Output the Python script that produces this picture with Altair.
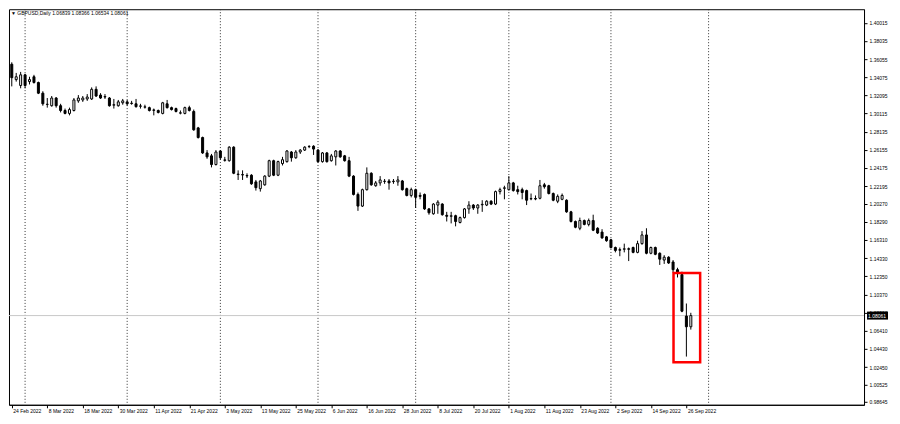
import json
import altair as alt
import pandas as pd

symbol = "GBPUSD"
timeframe = "Daily"
first_bar = "2022-02-24"
last_bar = "2022-09-27"

opens = [
    1.3549, 1.3381, 1.3317, 1.3433, 1.3359, 1.3412, 1.3349, 1.3233, 1.3110, 1.3096,
    1.3180, 1.3096, 1.3044, 1.3012, 1.3044, 1.3149, 1.3159, 1.3170, 1.3170, 1.3275,
    1.3212, 1.3191, 1.3180, 1.3102, 1.3096, 1.3128, 1.3138, 1.3120, 1.3117, 1.3090,
    1.3080, 1.3075, 1.3050, 1.3044, 1.3012, 1.3117, 1.3075, 1.3065, 1.3015, 1.3012,
    1.3075, 1.3033, 1.2854, 1.2749, 1.2581, 1.2549, 1.2454, 1.2602, 1.2500, 1.2496,
    1.2644, 1.2345, 1.2340, 1.2335, 1.2338, 1.2265, 1.2191, 1.2233, 1.2328, 1.2496,
    1.2338, 1.2465, 1.2486, 1.2591, 1.2528, 1.2591, 1.2612, 1.2650, 1.2654, 1.2612,
    1.2486, 1.2581, 1.2496, 1.2538, 1.2602, 1.2549, 1.2496, 1.2328, 1.2128, 1.2001,
    1.2180, 1.2359, 1.2223, 1.2254, 1.2270, 1.2275, 1.2268, 1.2265, 1.2275, 1.2191,
    1.2117, 1.2180, 1.2117, 1.2128, 1.1970, 1.1917, 1.2012, 1.2023, 1.1900, 1.1890,
    1.1896, 1.1822, 1.1875, 1.1970, 1.2012, 1.1980, 1.2015, 1.2012, 1.2054, 1.2023,
    1.2159, 1.2195, 1.2180, 1.2254, 1.2180, 1.2180, 1.2170, 1.2080, 1.2083, 1.2086,
    1.2233, 1.2223, 1.2138, 1.2054, 1.2075, 1.2065, 1.1938, 1.1833, 1.1759, 1.1843,
    1.1801, 1.1843, 1.1759, 1.1717, 1.1665, 1.1633, 1.1549, 1.1525, 1.1530, 1.1535,
    1.1549, 1.1496, 1.1591, 1.1686, 1.1486, 1.1549, 1.1486, 1.1412, 1.1443, 1.1391,
    1.1307, 1.1254, 1.0801, 1.06839,
]
highs = [
    1.3570, 1.3454, 1.3465, 1.3444, 1.3412, 1.3433, 1.3359, 1.3254, 1.3180, 1.3202,
    1.3191, 1.3117, 1.3065, 1.3075, 1.3180, 1.3212, 1.3202, 1.3223, 1.3296, 1.3307,
    1.3233, 1.3223, 1.3191, 1.3170, 1.3159, 1.3170, 1.3159, 1.3149, 1.3170, 1.3117,
    1.3107, 1.3086, 1.3065, 1.3054, 1.3138, 1.3159, 1.3086, 1.3075, 1.3044, 1.3086,
    1.3096, 1.3054, 1.2865, 1.2759, 1.2612, 1.2570, 1.2612, 1.2612, 1.2538, 1.2654,
    1.2654, 1.2391, 1.2391, 1.2359, 1.2349, 1.2286, 1.2286, 1.2338, 1.2507, 1.2507,
    1.2496, 1.2538, 1.2612, 1.2602, 1.2612, 1.2623, 1.2654, 1.2665, 1.2665, 1.2623,
    1.2591, 1.2591, 1.2570, 1.2612, 1.2612, 1.2559, 1.2538, 1.2338, 1.2149, 1.2191,
    1.2423, 1.2370, 1.2275, 1.2328, 1.2296, 1.2296, 1.2296, 1.2328, 1.2286, 1.2202,
    1.2202, 1.2191, 1.2149, 1.2138, 1.1980, 1.2033, 1.2065, 1.2033, 1.1938, 1.1938,
    1.1907, 1.1886, 1.1980, 1.2054, 1.2023, 1.2023, 1.2065, 1.2065, 1.2065, 1.2170,
    1.2202, 1.2223, 1.2328, 1.2265, 1.2223, 1.2202, 1.2180, 1.2138, 1.2117, 1.2286,
    1.2254, 1.2233, 1.2149, 1.2128, 1.2138, 1.2075, 1.1949, 1.1843, 1.1875, 1.1854,
    1.1865, 1.1907, 1.1770, 1.1749, 1.1675, 1.1644, 1.1559, 1.1549, 1.1591, 1.1549,
    1.1559, 1.1623, 1.1728, 1.1759, 1.1559, 1.1559, 1.1496, 1.1465, 1.1454, 1.1412,
    1.1328, 1.1285, 1.0938, 1.08366,
]
lows = [
    1.3307, 1.3359, 1.3286, 1.3286, 1.3328, 1.3338, 1.3223, 1.3096, 1.3075, 1.3086,
    1.3075, 1.3023, 1.3002, 1.2991, 1.3033, 1.3128, 1.3138, 1.3149, 1.3159, 1.3191,
    1.3170, 1.3170, 1.3086, 1.3065, 1.3086, 1.3107, 1.3096, 1.3107, 1.3075, 1.3065,
    1.3065, 1.3033, 1.2991, 1.3012, 1.3002, 1.3065, 1.3044, 1.3023, 1.3002, 1.3002,
    1.3033, 1.2823, 1.2738, 1.2570, 1.2517, 1.2423, 1.2444, 1.2507, 1.2486, 1.2486,
    1.2349, 1.2286, 1.2286, 1.2307, 1.2233, 1.2170, 1.2159, 1.2223, 1.2317, 1.2328,
    1.2328, 1.2444, 1.2475, 1.2486, 1.2517, 1.2570, 1.2602, 1.2633, 1.2559, 1.2475,
    1.2475, 1.2475, 1.2486, 1.2444, 1.2528, 1.2486, 1.2317, 1.2117, 1.1949, 1.1991,
    1.2170, 1.2223, 1.2212, 1.2223, 1.2244, 1.2180, 1.2244, 1.2223, 1.2170, 1.2107,
    1.2096, 1.1980, 1.2075, 1.1959, 1.1907, 1.1907, 1.1917, 1.1896, 1.1833, 1.1812,
    1.1780, 1.1812, 1.1865, 1.1917, 1.1959, 1.1917, 1.1938, 1.2001, 1.2012, 1.2012,
    1.2128, 1.2075, 1.2170, 1.2159, 1.2128, 1.2075, 1.2012, 1.2065, 1.2065, 1.2075,
    1.2191, 1.2128, 1.2054, 1.2033, 1.2065, 1.1928, 1.1822, 1.1759, 1.1738, 1.1791,
    1.1780, 1.1728, 1.1696, 1.1644, 1.1612, 1.1538, 1.1496, 1.1454, 1.1496, 1.1401,
    1.1486, 1.1486, 1.1580, 1.1475, 1.1475, 1.1465, 1.1359, 1.1370, 1.1370, 1.1275,
    1.1222, 1.0843, 1.0359, 1.06534,
]
closes = [
    1.3402, 1.3412, 1.3433, 1.3317, 1.3381, 1.3349, 1.3233, 1.3117, 1.3112, 1.3180,
    1.3096, 1.3044, 1.3012, 1.3054, 1.3159, 1.3180, 1.3180, 1.3191, 1.3275, 1.3202,
    1.3180, 1.3196, 1.3096, 1.3107, 1.3138, 1.3149, 1.3117, 1.3124, 1.3086, 1.3094,
    1.3084, 1.3044, 1.3046, 1.3023, 1.3128, 1.3075, 1.3054, 1.3033, 1.3019, 1.3075,
    1.3044, 1.2833, 1.2749, 1.2581, 1.2538, 1.2454, 1.2591, 1.2528, 1.2505, 1.2644,
    1.2359, 1.2350, 1.2345, 1.2330, 1.2244, 1.2202, 1.2275, 1.2328, 1.2496, 1.2338,
    1.2486, 1.2507, 1.2602, 1.2528, 1.2591, 1.2612, 1.2644, 1.2652, 1.2623, 1.2486,
    1.2581, 1.2486, 1.2549, 1.2602, 1.2538, 1.2496, 1.2328, 1.2128, 1.2001, 1.2180,
    1.2359, 1.2233, 1.2254, 1.2286, 1.2272, 1.2254, 1.2272, 1.2286, 1.2180, 1.2117,
    1.2180, 1.2096, 1.2107, 1.1970, 1.1928, 1.2023, 1.2044, 1.1907, 1.1890, 1.1895,
    1.1833, 1.1875, 1.1970, 1.2012, 1.1980, 1.2012, 1.2020, 1.2054, 1.2023, 1.2159,
    1.2180, 1.2200, 1.2254, 1.2170, 1.2159, 1.2149, 1.2065, 1.2083, 1.2078, 1.2223,
    1.2212, 1.2138, 1.2065, 1.2107, 1.2117, 1.1938, 1.1833, 1.1770, 1.1843, 1.1801,
    1.1843, 1.1738, 1.1707, 1.1654, 1.1623, 1.1549, 1.1517, 1.1520, 1.1535, 1.1530,
    1.1496, 1.1591, 1.1686, 1.1486, 1.1549, 1.1475, 1.1422, 1.1443, 1.1380, 1.1307,
    1.1275, 1.0854, 1.0684, 1.08061,
]

x_label_dates = [
    "2022-02-24", "2022-03-08", "2022-03-18", "2022-03-30", "2022-04-11",
    "2022-04-21", "2022-05-03", "2022-05-13", "2022-05-25", "2022-06-06",
    "2022-06-16", "2022-06-28", "2022-07-08", "2022-07-20", "2022-08-01",
    "2022-08-11", "2022-08-23", "2022-09-02", "2022-09-14", "2022-09-26",
]
month_grid_dates = [
    "2022-03-01", "2022-04-01", "2022-05-02", "2022-06-01",
    "2022-07-01", "2022-08-01", "2022-09-01", "2022-10-03",
]
price_ticks = [
    1.40015, 1.38035, 1.36055, 1.34075, 1.32095, 1.30115, 1.28135, 1.26155,
    1.24175, 1.22195, 1.20270, 1.18290, 1.16310, 1.14330, 1.12350, 1.10370,
    1.08390, 1.06410, 1.04430, 1.02450, 1.00525, 0.98645,
]
# highlighted region (red box)
box_first_bar = "2022-09-22"
box_last_bar = "2022-09-27"
box_high = 1.1272
box_low = 1.0296

# ---------------------------------------------------------------
W, H = 856, 396
FONT = "Liberation Sans"
FS = 5

ext = pd.bdate_range(first_bar, "2022-12-30")
pos = {d.strftime("%Y-%m-%d"): k for k, d in enumerate(ext)}

n = len(opens)
df = pd.DataFrame({
    "i": list(range(n)),
    "open": opens, "high": highs, "low": lows, "close": closes,
})
df["dir"] = ["up" if c >= o else "down" for o, c in zip(opens, closes)]

x_idx = [int(pos[d]) for d in x_label_dates]
x_txt = []
for d in x_label_dates:
    t = pd.Timestamp(d)
    x_txt.append(f"{t.day} {t.strftime('%b %Y')}")
label_expr = f"{json.dumps(x_txt)}[indexof({json.dumps(x_idx)}, datum.value)]"

grid_df = pd.DataFrame({"i": [int(pos[d]) for d in month_grid_dates]})

lo_, hi_, lw_, cl_ = opens[-1], highs[-1], lows[-1], closes[-1]
last_df = pd.DataFrame({
    "price": [cl_],
    "label": [f"{cl_:.5f}"],
    "header": [f"\u25bc {symbol},{timeframe}  {lo_:.5f} {hi_:.5f} {lw_:.5f} {cl_:.5f}"],
})

box_df = pd.DataFrame({
    "x1": [pos[box_first_bar] - 0.9],
    "x2": [pos[box_last_bar] + 2.1],
    "y1": [box_high],
    "y2": [box_low],
})

xscale = alt.Scale(domain=[0.5, 190.9], nice=False, zero=False)
yscale = alt.Scale(domain=[0.98329, 1.41489], nice=False, zero=False)

xaxis = alt.Axis(
    values=x_idx, labelExpr=label_expr, labelAlign="left", labelOffset=1,
    tickSize=3, labelPadding=1, labelFontSize=FS, labelFont=FONT,
    labelColor="black", domainColor="black", tickColor="black",
    grid=False, labelOverlap=False, labelFlush=False, labelBound=False, title=None,
)
yaxis = alt.Axis(
    orient="right", values=price_ticks, format=".5f", tickSize=3, labelPadding=2,
    labelFontSize=FS, labelFont=FONT, labelColor="black", domainColor="black",
    tickColor="black", grid=False, labelOverlap=False, labelFlush=False, title=None,
)


def X(f):
    return alt.X(f, type="quantitative", scale=xscale, axis=xaxis)


def Y(f):
    return alt.Y(f, type="quantitative", scale=yscale, axis=yaxis)


grid = alt.Chart(grid_df).mark_rule(color="#333333", strokeDash=[1, 2], strokeWidth=1).encode(x=X("i"))

price_line = alt.Chart(last_df).mark_rule(color="#c8c8c8", strokeWidth=1).encode(y=Y("price"))

wicks = alt.Chart(df).mark_rule(color="black", strokeWidth=1, clip=True).encode(
    x=X("i"), y=Y("low"), y2="high"
)

bodies = alt.Chart(df).mark_bar(size=2, stroke="black", strokeWidth=1, clip=True).encode(
    x=X("i"), y=Y("open"), y2="close",
    fill=alt.Fill("dir:N", scale=alt.Scale(domain=["up", "down"], range=["white", "black"]), legend=None),
)

box = alt.Chart(box_df).mark_rect(fillOpacity=0, stroke="#ff0000", strokeWidth=2.5).encode(
    x=X("x1"), x2="x2", y=Y("y1"), y2="y2"
)

tag_bg = alt.Chart(last_df).mark_rule(color="black", strokeWidth=8).encode(
    y=Y("price"), x=alt.value(W + 3), x2=alt.value(W + 24)
)
tag_text = alt.Chart(last_df).mark_text(
    align="left", baseline="middle", fontSize=FS, font=FONT, color="white"
).encode(y=Y("price"), x=alt.value(W + 4), text="label:N")

header = alt.Chart(last_df).mark_text(
    align="left", baseline="middle", fontSize=FS, font=FONT, color="black"
).encode(x=alt.value(2), y=alt.value(4), text="header:N")

chart = alt.layer(
    grid, price_line, wicks, bodies, box, tag_bg, tag_text, header
).properties(
    width=W, height=H,
    padding={"left": 0, "top": 0, "right": 0, "bottom": 0},
    background="white",
).configure_view(stroke="black", strokeWidth=1)

chart.save("out.html", embed_options={"renderer": "svg", "actions": False})
